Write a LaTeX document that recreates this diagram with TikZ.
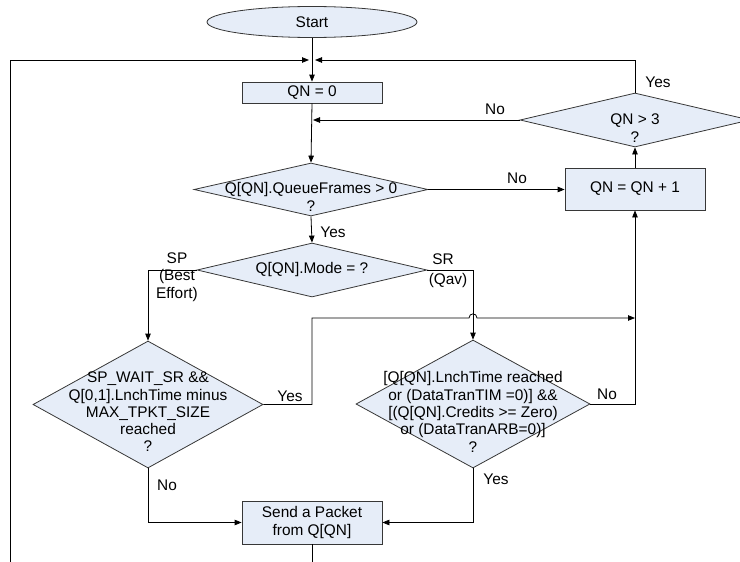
\documentclass[tikz,border=0pt]{standalone}
\usepackage{fontspec}
\setmainfont{Liberation Sans}
\usetikzlibrary{shapes.geometric,arrows.meta}
\definecolor{boxfill}{RGB}{230,237,248}
\definecolor{edgecol}{RGB}{55,55,55}
\begin{document}
\begin{tikzpicture}[x=1pt,y=-1pt,
  font=\fontsize{15.4}{17.3}\selectfont,
  shp/.style={draw=edgecol, fill=boxfill, line width=0.8pt, inner sep=0pt},
  dia/.style={shp, diamond},
  box/.style={shp, rectangle},
  term/.style={shp, ellipse},
  txt/.style={inner sep=0pt, align=center},
  conn/.style={draw=black, line width=0.8pt},
  arr/.style={conn, -{Triangle[length=7pt,width=5.5pt]}}]
\useasboundingbox (0,0) rectangle (740,562);

% shapes
\node[term, minimum width=210, minimum height=31] (start) at (312,22) {Start};
\node[box, minimum width=140, minimum height=21] (qn0) at (312,92.5) {QN = 0};
\node[dia, minimum width=234, minimum height=53] (qf) at (311,189.5) {};
\node[txt] (qft) at (311,197) {Q[QN].QueueFrames > 0\\?};
\node[dia, minimum width=230, minimum height=54] (mode) at (312,270) {};
\node[txt] (modet) at (312,270) {Q[QN].Mode = ?};
\node[dia, minimum width=230, minimum height=127] (spw) at (148,404.5) {};
\node[txt] (spwt) at (148,412) {SP\_WAIT\_SR \&\&\\Q[0,1].LnchTime minus\\MAX\_TPKT\_SIZE\\reached\\?};
\node[dia, minimum width=234, minimum height=128] (lnch) at (473,404) {};
\node[txt] (lncht) at (473,412) {[Q[QN].LnchTime reached\\or (DataTranTIM =0)] \&\&\\{}[(Q[QN].Credits >= Zero)\\or (DataTranARB=0)]\\?};
\node[box, minimum width=140, minimum height=43, align=center] (send) at (312,522.5) {Send a Packet\\from Q[QN]};
\node[dia, minimum width=230, minimum height=54] (gt3) at (635,120) {};
\node[txt] (gt3t) at (635,128) {QN > 3\\?};
\node[box, minimum width=140, minimum height=42] (inc) at (635,189) {QN = QN + 1};

% coordinates
\coordinate (jl) at (309,60);
\coordinate (jr) at (315,60);
\coordinate (lb) at (10,562);
\coordinate (j2) at (313,120);
\coordinate (y1) at (312,318);
\coordinate (hopL) at (469,318);
\coordinate (hopR) at (477,318);
\coordinate (y2) at (635,318);
\coordinate (sb) at (312,562);

% connectors
\draw[arr] (start.south) -- (qn0.north);
\draw[arr] (lb) |- (jl);
\draw[arr] (gt3.north) |- (jr);
\draw[arr] (gt3.west) -- (j2);
\draw[arr] (qn0.south) -- (qf.north);
\draw[arr] (qf.east) -- (qf.east -| inc.west);
\draw[arr] (inc.north) -- (gt3.south);
\draw[arr] (qf.south) -- (mode.north);
\draw[arr] (mode.west) -| (spw.north);
\draw[arr] (mode.east) -| (lnch.north);
\draw[arr] (spw.east) -| (y1) -- (hopL) .. controls (469,312.5) and (477,312.5) .. (hopR) -- (y2);
\draw[arr] (lnch.east) -| (inc.south);
\draw[arr] (spw.south) |- (send.west);
\draw[arr] (lnch.south) |- (send.east);
\draw[conn] (send.south) -- (sb);

% labels
\node[txt] (l1) at (495,109) {No};
\node[txt] (l2) at (658,82) {Yes};
\node[txt] (l3) at (517,178) {No};
\node[txt] (l4) at (333,232) {Yes};
\node[txt] (l5) at (177,277) {SP\\(Best\\Effort)};
\node[txt] (l6) at (443,259) {SR};
\node[txt] (l7) at (448,281) {(Qav)};
\node[txt] (l8) at (290,396) {Yes};
\node[txt] (l9) at (607,394) {No};
\node[txt] (l10) at (167,485) {No};
\node[txt] (l11) at (496,479) {Yes};
\end{tikzpicture}
\end{document}
